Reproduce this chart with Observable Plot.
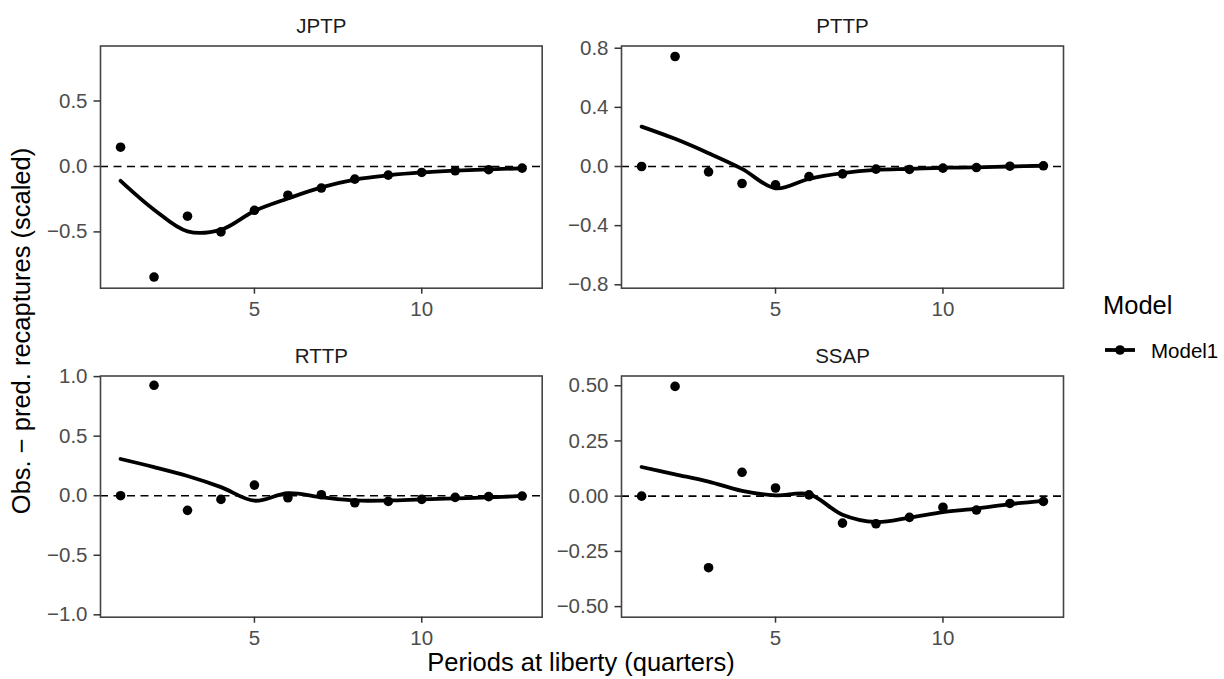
<!DOCTYPE html>
<html>
<head>
<meta charset="utf-8">
<script src="https://cdn.jsdelivr.net/npm/d3@7"></script>
<script src="https://cdn.jsdelivr.net/npm/@observablehq/plot@0.6"></script>
<style>
  body { margin: 0; background: #fff; font-family: "Liberation Sans", Arial, sans-serif; }
  #root { position: relative; width: 1224px; height: 679px; background: #fff; overflow: hidden; }
  .panel { position: absolute; }
  .lbl { position: absolute; color: #000; white-space: nowrap; line-height: 1.15; }
</style>
</head>
<body>
<div id="root"></div>
<script>
// ---- data ----
const periods = [1, 2, 3, 4, 5, 6, 7, 8, 9, 10, 11, 12, 13];
const panelNames = ["JPTP", "PTTP", "RTTP", "SSAP"];

const obsJPTP = [0.147, -0.845, -0.38, -0.50, -0.335, -0.22, -0.165, -0.097, -0.066, -0.046, -0.033, -0.025, -0.013];
const fitJPTP = [-0.11, -0.33, -0.496, -0.483, -0.34, -0.245, -0.16, -0.10, -0.068, -0.046, -0.032, -0.022, -0.015];

const obsPTTP = [0.0, 0.744, -0.036, -0.115, -0.124, -0.068, -0.05, -0.018, -0.02, -0.011, -0.007, 0.002, 0.005];
const fitPTTP = [0.27, 0.187, 0.09, -0.016, -0.147, -0.083, -0.045, -0.023, -0.016, -0.009, -0.006, 0.0, 0.005];

const obsRTTP = [0.0, 0.927, -0.123, -0.031, 0.089, -0.017, 0.008, -0.059, -0.048, -0.031, -0.014, -0.008, -0.003];
const fitRTTP = [0.308, 0.24, 0.165, 0.072, -0.042, 0.022, -0.012, -0.04, -0.04, -0.031, -0.023, -0.014, -0.002];

const obsSSAP = [0.0, 0.497, -0.324, 0.108, 0.037, 0.006, -0.122, -0.125, -0.096, -0.05, -0.063, -0.033, -0.024];
const fitSSAP = [0.132, 0.099, 0.066, 0.024, 0.004, 0.009, -0.084, -0.117, -0.097, -0.072, -0.056, -0.036, -0.021];

const xTicks = [5, 10];
const yTicksJPTP = [-0.5, 0, 0.5];
const yTicksPTTP = [-0.8, -0.4, 0, 0.4, 0.8];
const yTicksRTTP = [-1, -0.5, 0, 0.5, 1];
const yTicksSSAP = [-0.5, -0.25, 0, 0.25, 0.5];

const yDomains = {
  JPTP: [-0.93, 0.92],
  PTTP: [-0.823, 0.815],
  RTTP: [-1.02, 1.005],
  SSAP: [-0.548, 0.544]
};

const xLabel = "Periods at liberty (quarters)";
const yLabel = "Obs. \u2212 pred. recaptures (scaled)";
const legendTitle = "Model";
const seriesName = "Model1";

// ---- build ----
const series = {
  JPTP: {obs: obsJPTP, fit: fitJPTP, ticks: yTicksJPTP, fmt: ".1f"},
  PTTP: {obs: obsPTTP, fit: fitPTTP, ticks: yTicksPTTP, fmt: ".1f"},
  RTTP: {obs: obsRTTP, fit: fitRTTP, ticks: yTicksRTTP, fmt: ".1f"},
  SSAP: {obs: obsSSAP, fit: fitSSAP, ticks: yTicksSSAP, fmt: ".2f"}
};

const layout = {
  JPTP: {left: 0,   top: 0,   width: 560, height: 320, ml: 100, mr: 18.3, mt: 45.5, mb: 32.3},
  PTTP: {left: 560, top: 0,   width: 520, height: 320, ml: 61,  mr: 17,   mt: 45.5, mb: 32.3},
  RTTP: {left: 0,   top: 330, width: 560, height: 349, ml: 100, mr: 18.3, mt: 45.5, mb: 62.3},
  SSAP: {left: 560, top: 330, width: 520, height: 349, ml: 61,  mr: 17,   mt: 45.5, mb: 62.3}
};

const root = document.getElementById("root");
const fontFamily = '"Liberation Sans", Arial, Helvetica, sans-serif';
const smallSize = 20.5;
const titleSize = 25.5;

for (const name of panelNames) {
  const s = series[name];
  const L = layout[name];
  const rows = periods.map((p, i) => ({period: p, obs: s.obs[i], fit: s.fit[i]}));
  const chart = Plot.plot({
    width: L.width,
    height: L.height,
    marginLeft: L.ml,
    marginRight: L.mr,
    marginTop: L.mt,
    marginBottom: L.mb,
    style: {fontFamily, fontSize: smallSize + "px", background: "transparent", overflow: "visible"},
    x: {domain: [0.4, 13.6]},
    y: {domain: yDomains[name]},
    marks: [
      Plot.ruleY([0], {stroke: "#000", strokeWidth: 1.6, strokeDasharray: "8,5.5"}),
      Plot.line(rows, {x: "period", y: "fit", stroke: "#000", strokeWidth: 3.8, curve: "catmull-rom"}),
      Plot.dot(rows, {x: "period", y: "obs", r: 4.8, fill: "#000", stroke: "none"}),
      Plot.frame({stroke: "#444", strokeWidth: 1.6}),
      Plot.axisX({ticks: xTicks, tickSize: 6, tickPadding: 7, stroke: "#333", fill: "#4d4d4d", strokeWidth: 1.5, fontSize: smallSize, label: null, tickFormat: d3.format("d")}),
      Plot.axisY({ticks: s.ticks, tickSize: 6.5, tickPadding: 6.5, stroke: "#333", fill: "#4d4d4d", strokeWidth: 1.5, fontSize: smallSize, label: null, tickFormat: d3.format(s.fmt)}),
      Plot.text([name], {frameAnchor: "top", dy: -20, fontSize: smallSize, fill: "#1a1a1a", lineAnchor: "middle"})
    ]
  });
  const wrap = document.createElement("div");
  wrap.className = "panel";
  wrap.style.left = L.left + "px";
  wrap.style.top = L.top + "px";
  wrap.appendChild(chart);
  root.appendChild(wrap);
}

// axis titles
const xt = document.createElement("div");
xt.className = "lbl";
xt.textContent = xLabel;
xt.style.fontSize = titleSize + "px";
xt.style.left = "581px";
xt.style.top = "663px";
xt.style.transform = "translate(-50%, -50%)";
root.appendChild(xt);

const yt = document.createElement("div");
yt.className = "lbl";
yt.textContent = yLabel;
yt.style.fontSize = titleSize + "px";
yt.style.left = "22px";
yt.style.top = "331px";
yt.style.transform = "translate(-50%, -50%) rotate(-90deg)";
root.appendChild(yt);

// legend
const lt = document.createElement("div");
lt.className = "lbl";
lt.textContent = legendTitle;
lt.style.fontSize = titleSize + "px";
lt.style.left = "1103px";
lt.style.top = "306px";
lt.style.transform = "translateY(-50%)";
root.appendChild(lt);

const key = document.createElementNS("http://www.w3.org/2000/svg", "svg");
key.setAttribute("width", 34);
key.setAttribute("height", 20);
key.style.position = "absolute";
key.style.left = "1103px";
key.style.top = "340px";
key.innerHTML = '<line x1="2" x2="32" y1="10" y2="10" stroke="#000" stroke-width="3.8"/><circle cx="17" cy="10" r="4.8" fill="#000"/>';
root.appendChild(key);

const ll = document.createElement("div");
ll.className = "lbl";
ll.textContent = seriesName;
ll.style.fontSize = smallSize + "px";
ll.style.left = "1151px";
ll.style.top = "351px";
ll.style.transform = "translateY(-50%)";
root.appendChild(ll);
</script>
</body>
</html>
